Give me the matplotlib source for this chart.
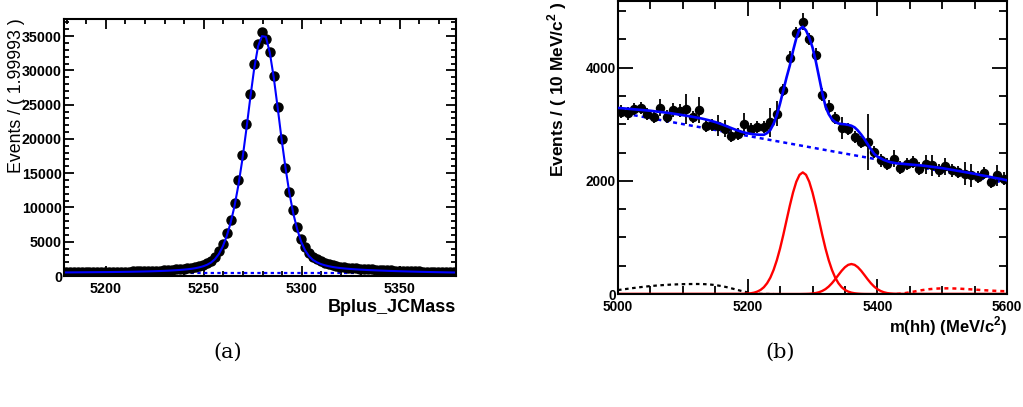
import numpy as np
import matplotlib
matplotlib.use("Agg")
import matplotlib.pyplot as plt
from matplotlib.ticker import MultipleLocator

plt.rcParams['font.family'] = ['Liberation Sans', 'DejaVu Sans']
plt.rcParams['mathtext.fontset'] = 'custom'
plt.rcParams['mathtext.rm'] = 'Liberation Sans:bold'
plt.rcParams['mathtext.bf'] = 'Liberation Sans:bold'

# ---------------- panel (a): Bplus_JCMass, 100 bins of 1.99993 ----------------
mass_a = [5179.7 + 2 * k for k in range(100)]
events_a = [
    560, 565, 565, 570, 575, 580, 585, 590, 595, 600,
    605, 610, 620, 625, 635, 645, 655, 665, 680, 695,
    710, 730, 750, 775, 800, 830, 865, 905, 950, 1000,
    1060, 1130, 1220, 1330, 1470, 1640, 1870, 2230, 2820, 3690,
    4720, 6320, 8170, 10690, 13950, 17690, 22120, 26500, 30920, 33790,
    35540, 34560, 32710, 29170, 24600, 19980, 15800, 12250, 9580, 7100,
    5400, 4200, 3400, 2820, 2430, 2140, 1900, 1720, 1580, 1470,
    1380, 1300, 1230, 1170, 1120, 1070, 1030, 990, 955, 920,
    890, 860, 835, 810, 785, 760, 740, 720, 700, 680,
    660, 645, 630, 615, 600, 585, 570, 560, 550, 540,
]
fit_a = [
    520, 525, 530, 535, 540, 545, 550, 555, 560, 565,
    570, 575, 582, 590, 598, 606, 615, 625, 636, 648,
    660, 675, 690, 708, 728, 750, 775, 805, 840, 880,
    925, 980, 1050, 1140, 1260, 1420, 1640, 1960, 2450, 3200,
    4300, 5800, 7750, 10200, 13300, 17000, 21300, 25900, 30200, 33500,
    35000, 34900, 32600, 29000, 24600, 20000, 15800, 12100, 9100, 6800,
    5000, 3750, 2900, 2350, 2000, 1750, 1570, 1430, 1320, 1230,
    1160, 1100, 1050, 1005, 965, 930, 900, 870, 845, 820,
    798, 776, 755, 735, 716, 698, 680, 664, 648, 633,
    618, 604, 591, 578, 566, 554, 543, 532, 522, 512,
]
bkg_a_x = [5178.7, 5378.7]
bkg_a = [390, 390]
bkg2_a = [60, 60]

# ---------------- panel (b): m(hh), 10 MeV bins ----------------
mass_b = [5005 + 10 * k for k in range(60)]
events_b = [
    3225, 3195, 3270, 3290, 3185, 3137, 3290, 3137, 3255, 3242,
    3272, 3125, 3255, 2978, 2990, 2978, 2920, 2802, 2832, 3008,
    2920, 2948, 2948, 3036, 3185, 3607, 4170, 4611, 4811, 4506,
    4224, 3524, 3313, 3114, 2937, 2920, 2772, 2684, 2684, 2507,
    2361, 2303, 2391, 2233, 2303, 2331, 2215, 2291, 2273, 2185,
    2255, 2185, 2155, 2127, 2097, 2067, 2138, 1979, 2097, 2039,
]
errors_b = [
    110, 110, 110, 110, 110, 110, 150, 110, 120, 110,
    270, 110, 230, 110, 110, 180, 150, 110, 110, 190,
    110, 110, 110, 260, 220, 110, 120, 110, 150, 110,
    120, 110, 110, 110, 190, 110, 110, 110, 500, 110,
    110, 110, 150, 110, 110, 110, 110, 170, 190, 110,
    150, 110, 110, 200, 210, 110, 110, 110, 190, 110,
]

total_x = [5000, 5010, 5020, 5030, 5040, 5050, 5060, 5070, 5080, 5090,
           5100, 5110, 5120, 5130, 5140, 5150, 5160, 5170, 5180, 5190,
           5200, 5210, 5220, 5225, 5230, 5235, 5240, 5245, 5250, 5255,
           5260, 5265, 5270, 5275, 5280, 5285, 5290, 5295, 5300, 5305,
           5310, 5315, 5320, 5325, 5330, 5335, 5340, 5345, 5350, 5355,
           5360, 5365, 5370, 5375, 5380, 5385, 5390, 5395, 5400, 5410,
           5420, 5430, 5440, 5450, 5460, 5470, 5480, 5490, 5500, 5510,
           5520, 5530, 5540, 5550, 5560, 5570, 5580, 5590, 5600]
total_y = [3290, 3280, 3270, 3260, 3250, 3240, 3225, 3212, 3198, 3180,
           3162, 3143, 3122, 3100, 3072, 3040, 3000, 2955, 2910, 2870,
           2840, 2822, 2815, 2815, 2845, 2900, 3010, 3160, 3370, 3600,
           3830, 4040, 4300, 4520, 4680, 4725, 4660, 4530, 4360, 4120,
           3840, 3560, 3320, 3180, 3090, 3040, 3015, 3005, 3000, 2990,
           2975, 2945, 2890, 2820, 2740, 2650, 2560, 2480, 2430, 2370,
           2330, 2310, 2300, 2290, 2280, 2270, 2255, 2240, 2225, 2205,
           2185, 2165, 2145, 2125, 2100, 2080, 2055, 2035, 2010]

comb_x = [5000, 5100, 5200, 5300, 5400, 5500, 5600]
comb_y = [3212, 3004, 2795, 2587, 2379, 2170, 1961]

sig_x = [5000, 5190, 5195, 5200, 5205, 5210, 5215, 5220, 5225, 5230, 5235,
         5240, 5245, 5250, 5255, 5260, 5265, 5270, 5275, 5280, 5285, 5290,
         5295, 5300, 5305, 5310, 5315, 5320, 5325, 5330, 5335, 5340, 5345,
         5350, 5355, 5360, 5365, 5370, 5375, 5380, 5390, 5600]
sig_y = [0, 1, 3, 7, 13, 24, 43, 73, 120, 191, 290,
         426, 598, 806, 1047, 1305, 1561, 1795, 1984, 2107, 2150, 2107,
         1984, 1795, 1561, 1305, 1047, 806, 598, 426, 290, 191, 120,
         73, 43, 24, 13, 7, 3, 1, 0, 0]

refl_x = [5000, 5280, 5290, 5295, 5300, 5305, 5310, 5315, 5320, 5325, 5330,
          5335, 5340, 5345, 5350, 5355, 5360, 5365, 5370, 5375, 5380,
          5385, 5390, 5395, 5400, 5405, 5410, 5415, 5420, 5425, 5430,
          5440, 5600]
refl_y = [0, 0, 2, 4, 9, 17, 31, 54, 86, 132, 191,
          261, 337, 411, 473, 515, 530, 515, 473, 411, 337,
          261, 191, 132, 86, 54, 31, 17, 9, 4, 2,
          0, 0]

prec_x = [5000, 5010, 5020, 5030, 5040, 5050, 5060, 5070, 5080, 5090, 5100,
          5110, 5120, 5130, 5140, 5150, 5160, 5170, 5180, 5190, 5200, 5210,
          5220, 5240]
prec_y = [70, 85, 100, 115, 128, 140, 150, 158, 165, 170, 174,
          176, 177, 176, 170, 158, 140, 115, 85, 55, 28, 10,
          2, 0]

high_x = [5430, 5440, 5450, 5460, 5470, 5480, 5490, 5500, 5510, 5520,
          5530, 5540, 5550, 5560, 5570, 5580, 5590, 5600]
high_y = [0, 10, 30, 50, 70, 85, 95, 100, 100, 97,
          92, 85, 78, 70, 63, 57, 52, 48]


def root_axes(ax, major_len, minor_len, size):
    for s in ax.spines.values():
        s.set_linewidth(1.5)
    ax.tick_params(which='both', direction='in', top=True, right=True, width=1.3)
    ax.tick_params(which='major', length=major_len)
    ax.tick_params(which='minor', length=minor_len)
    ax.tick_params(axis='x', pad=4.5)
    ax.tick_params(axis='y', pad=1.5)
    for lab in ax.get_xticklabels() + ax.get_yticklabels():
        lab.set_fontweight('bold')
        lab.set_fontsize(size)


fig = plt.figure(figsize=(10.23, 4.07), dpi=100)
W, H = 1023.0, 407.0

# panel (a)
ax1 = fig.add_axes([64 / W, 1 - 276 / H, 392 / W, 257 / H])
ax1.plot(bkg_a_x, bkg2_a, color='#1f6f6f', lw=1.2, ls=(0, (1.5, 1.5)))
ax1.plot(bkg_a_x, bkg_a, color='blue', lw=1.6, ls=(0, (1.5, 1.5)))
ax1.plot(mass_a, events_a, 'o', color='black', ms=6.5, zorder=3)
ax1.plot(mass_a, fit_a, color='blue', lw=1.5, zorder=4)
ax1.set_xlim(5178.7, 5378.7)
ax1.set_ylim(0, 37500)
ax1.set_xticks([5200, 5250, 5300, 5350])
ax1.set_yticks(range(0, 35001, 5000))
ax1.xaxis.set_minor_locator(MultipleLocator(10))
ax1.yaxis.set_minor_locator(MultipleLocator(1000))
root_axes(ax1, 7, 3.5, 10.3)
fig.text(456 / W, 1 - 307 / H, 'Bplus_JCMass', ha='right', va='center',
         fontsize=13, fontweight='bold')
fig.text(17 / W, 1 - 18 / H, 'Events / ( 1.99993 )', rotation=90,
         ha='center', va='top', fontsize=12.8)

# panel (b)
ax2 = fig.add_axes([618 / W, 1 - 294 / H, 389 / W, 293 / H])
ax2.plot(comb_x, comb_y, color='blue', lw=1.8, ls=(0, (1.6, 1.6)), zorder=2)
ax2.plot(prec_x, prec_y, color='black', lw=1.6, ls=(0, (1.6, 1.6)), zorder=2)
ax2.plot(high_x, high_y, color='red', lw=1.8, ls=(0, (1.6, 1.6)), zorder=2)
ax2.plot(sig_x, sig_y, color='red', lw=1.7, zorder=2)
ax2.plot(refl_x, refl_y, color='red', lw=1.7, zorder=2)
ax2.errorbar(mass_b, events_b, yerr=errors_b, fmt='o', color='black',
             ms=5.8, elinewidth=1.3, capsize=0, zorder=3)
ax2.plot(total_x, total_y, color='blue', lw=1.9, zorder=4)
ax2.set_xlim(5000, 5600)
ax2.set_ylim(0, 5180)
ax2.set_xticks([5000, 5200, 5400, 5600])
ax2.set_yticks([0, 2000, 4000])
ax2.xaxis.set_minor_locator(MultipleLocator(50))
ax2.yaxis.set_minor_locator(MultipleLocator(500))
root_axes(ax2, 11, 5.5, 9.8)
fig.text(1007 / W, 1 - 326 / H, r'm(hh) (MeV/c$^{2}$)', ha='right', va='center',
         fontsize=12, fontweight='bold')
fig.text(557 / W, 1 - 1 / H, r'Events / ( 10 MeV/c$^{2}$ )', rotation=90,
         ha='center', va='top', fontsize=12.5, fontweight='bold')

# sub-captions
fig.text(228 / W, 1 - 352 / H, '(a)', ha='center', va='center', fontsize=15,
         family='DejaVu Serif')
fig.text(780 / W, 1 - 352 / H, '(b)', ha='center', va='center', fontsize=15,
         family='DejaVu Serif')

fig.savefig('out.png', dpi=100)
